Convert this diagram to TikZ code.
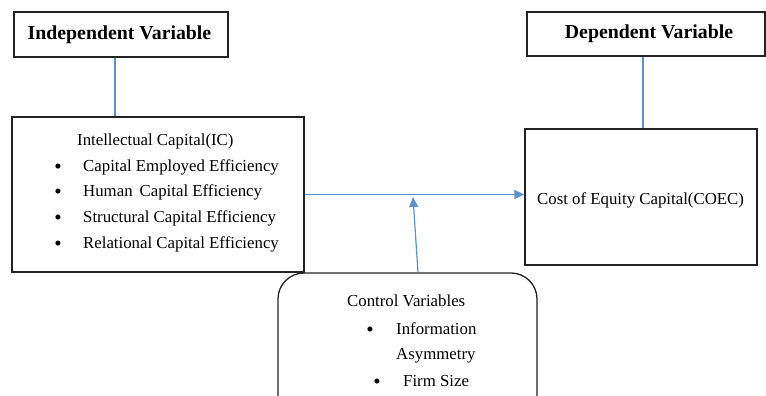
\documentclass[tikz,border=0pt]{standalone}
\usepackage{fontspec}
\setmainfont{Liberation Serif}
\usetikzlibrary{arrows.meta,calc}
\definecolor{linkblue}{RGB}{91,145,205}
\definecolor{boxline}{RGB}{35,35,35}
\begin{document}
\begin{tikzpicture}[x=1pt,y=-1pt,
  box/.style={draw=boxline,line width=1.3pt,inner sep=0pt,fill=white},
  txt/.style={anchor=base west,inner sep=0pt,font=\fontsize{16.8}{20}\selectfont},
  head/.style={font=\fontsize{19.8}{23}\selectfont\bfseries},
  bul/.style={anchor=base,inner sep=0pt,font=\fontsize{21}{24}\selectfont},
  link/.style={draw=linkblue,line width=1.2pt},
  arr/.style={link,-{Triangle[length=10pt,width=9pt]}}]
\useasboundingbox (0,0) rectangle (766,396);
\clip (0,0) rectangle (766,396);
% boxes
\node[box,minimum width=214pt,minimum height=45pt,head] (iv) at (121,34.5) {\hspace*{-3pt}Independent Variable};
\node[box,minimum width=292pt,minimum height=155pt] (ic) at (158,194.5) {};
\node[box,minimum width=238pt,minimum height=44pt,head] (dv) at (646,34) {\hspace*{6pt}Dependent Variable};
\node[box,minimum width=232pt,minimum height=136pt] (coec) at (641,197) {};
\node[box,rounded corners=26pt,minimum width=259pt,minimum height=156pt] (ctrl) at (407.5,351) {};
% IC text
\node[txt] (ict) at (77,145) {Intellectual Capital(IC)};
\node[bul] (b1) at (58,173) {•};
\node[bul] (b2) at (58,198) {•};
\node[bul] (b3) at (58,224) {•};
\node[bul] (b4) at (58,250) {•};
\node[txt] (i1) at (83,171) {Capital Employed Efficiency};
\node[txt] (i2) at (83,196) {Human\, Capital Efficiency};
\node[txt] (i3) at (83,222) {Structural Capital Efficiency};
\node[txt] (i4) at (83,248) {Relational Capital Efficiency};
% COEC text
\node[txt] (ct) at (537,204) {Cost of Equity Capital(COEC)};
% control text
\node[txt] (cv) at (347,306) {Control Variables};
\node[bul] (c1) at (370,336) {•};
\node[txt] (cv1) at (396,334) {Information};
\node[txt] (cv2) at (396,359) {Asymmetry};
\node[bul] (c2) at (377,388) {•};
\node[txt] (cv3) at (403,386) {Firm Size};
% connectors
\draw[link] ([xshift=-6pt]iv.south) -- ([xshift=-6pt]iv.south |- ic.north);
\draw[link] ([xshift=-3pt]dv.south) -- ([xshift=-3pt]dv.south |- coec.north);
\draw[arr] (ic.east) -- (ic.east -| coec.west);
\coordinate (m) at (413,197);
\draw[arr] ([xshift=10.5pt]ctrl.north) -- (m);
\end{tikzpicture}
\end{document}
